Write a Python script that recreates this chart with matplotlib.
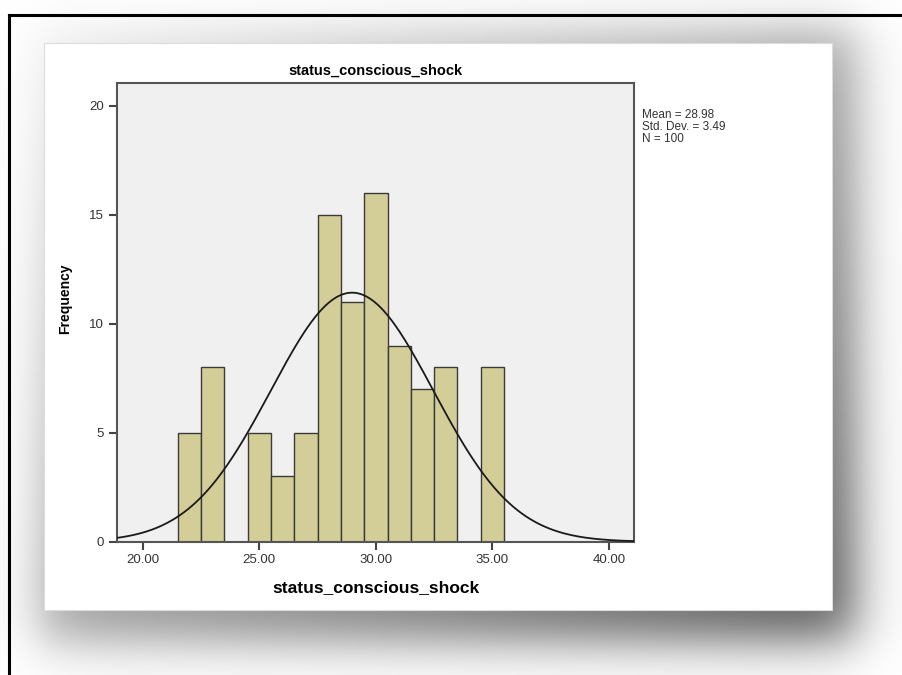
import numpy as np
import matplotlib.pyplot as plt
from matplotlib.patches import Rectangle
from matplotlib.lines import Line2D

plt.rcParams['font.family'] = ['Liberation Sans', 'DejaVu Sans']

# ------------------------------
# Data
# ------------------------------
bin_centers = [22, 23, 25, 26, 27, 28, 29, 30, 31, 32, 33, 35]
counts = [5, 8, 5, 3, 5, 15, 11, 16, 9, 7, 8, 8]
bin_width = 1.0

mean_val = 28.98
std_val = 3.49
n_val = 100

x_ticks = [20, 25, 30, 35, 40]
y_ticks = [0, 5, 10, 15, 20]
var_name = "status_conscious_shock"

W, H = 902, 675

fig = plt.figure(figsize=(W / 100, H / 100), dpi=100)

# ------------------------------
# Background: soft drop shadow + white panel + black frame
# ------------------------------
bg = fig.add_axes([0, 0, 1, 1], zorder=0)
bg.set_xlim(0, W)
bg.set_ylim(H, 0)
bg.axis("off")

def smooth_box(v, lo, hi, s):
    return 0.5 * (np.tanh((v - lo) / s) - np.tanh((v - hi) / s))

xx = np.arange(W) + 0.5
yy = np.arange(H) + 0.5
px = smooth_box(xx, 40, 855, 30)
py = smooth_box(yy, 30, 640, 30)
shade = np.outer(py, px)
# darker toward the lower right
grad = 0.08 + 0.56 * np.clip(np.add.outer((yy - 43) / 567, (xx - 44) / 788) / 2, 0, 1)
gray = 1 - shade * grad
img = np.dstack([gray, gray, gray])
bg.imshow(img, extent=(0, W, H, 0), aspect="auto", interpolation="bilinear")

bg.add_patch(Rectangle((44, 43), 788, 567, facecolor="white",
                       edgecolor="#dcdcdc", linewidth=0.8))
bg.add_line(Line2D([8.5, 8.5], [675, 14.5], color="black", linewidth=2.2))
bg.add_line(Line2D([8.5, 902], [14.5, 14.5], color="black", linewidth=2.2))

# ------------------------------
# Histogram
# ------------------------------
ax = fig.add_axes([116.7 / W, 1 - 541.7 / H, (634.3 - 116.7) / W, (541.7 - 83.3) / H], zorder=1)
ax.set_facecolor("#f0f0f0")

ax.bar(bin_centers, counts, width=bin_width, color="#d3ce97",
       edgecolor="#3a3a3a", linewidth=1.0, zorder=2)

ax.set_xlim(18.88, 41.09)
ax.set_ylim(0, 21.04)

xs = np.linspace(18.88, 41.09, 400)
pdf = n_val * bin_width / (std_val * np.sqrt(2 * np.pi)) * np.exp(-0.5 * ((xs - mean_val) / std_val) ** 2)
ax.plot(xs, pdf, color="#1a1a1a", linewidth=1.3, zorder=3)

ax.set_xticks(x_ticks)
ax.set_xticklabels([f"{t:.2f}" for t in x_ticks])
ax.set_yticks(y_ticks)
ax.tick_params(direction="out", length=6, width=1.5, color="#444444",
               labelsize=9.5, labelcolor="#333333", pad=3)
for sp in ax.spines.values():
    sp.set_color("#555555")
    sp.set_linewidth(1.5)

ax.set_title(var_name, fontsize=10.5, fontweight="bold", pad=6)
ax.set_xlabel(var_name, fontsize=12.5, fontweight="bold", labelpad=10)
ax.set_ylabel("Frequency", fontsize=10, fontweight="bold")
ax.yaxis.set_label_coords(-0.086, 0.53)

fig.text(642 / W, 1 - 109 / H,
         f"Mean = {mean_val:.2f}\nStd. Dev. = {std_val:.2f}\nN = {n_val}",
         fontsize=8.5, color="#333333", va="top", ha="left", linespacing=1.0)

fig.savefig("out.png", dpi=100)
